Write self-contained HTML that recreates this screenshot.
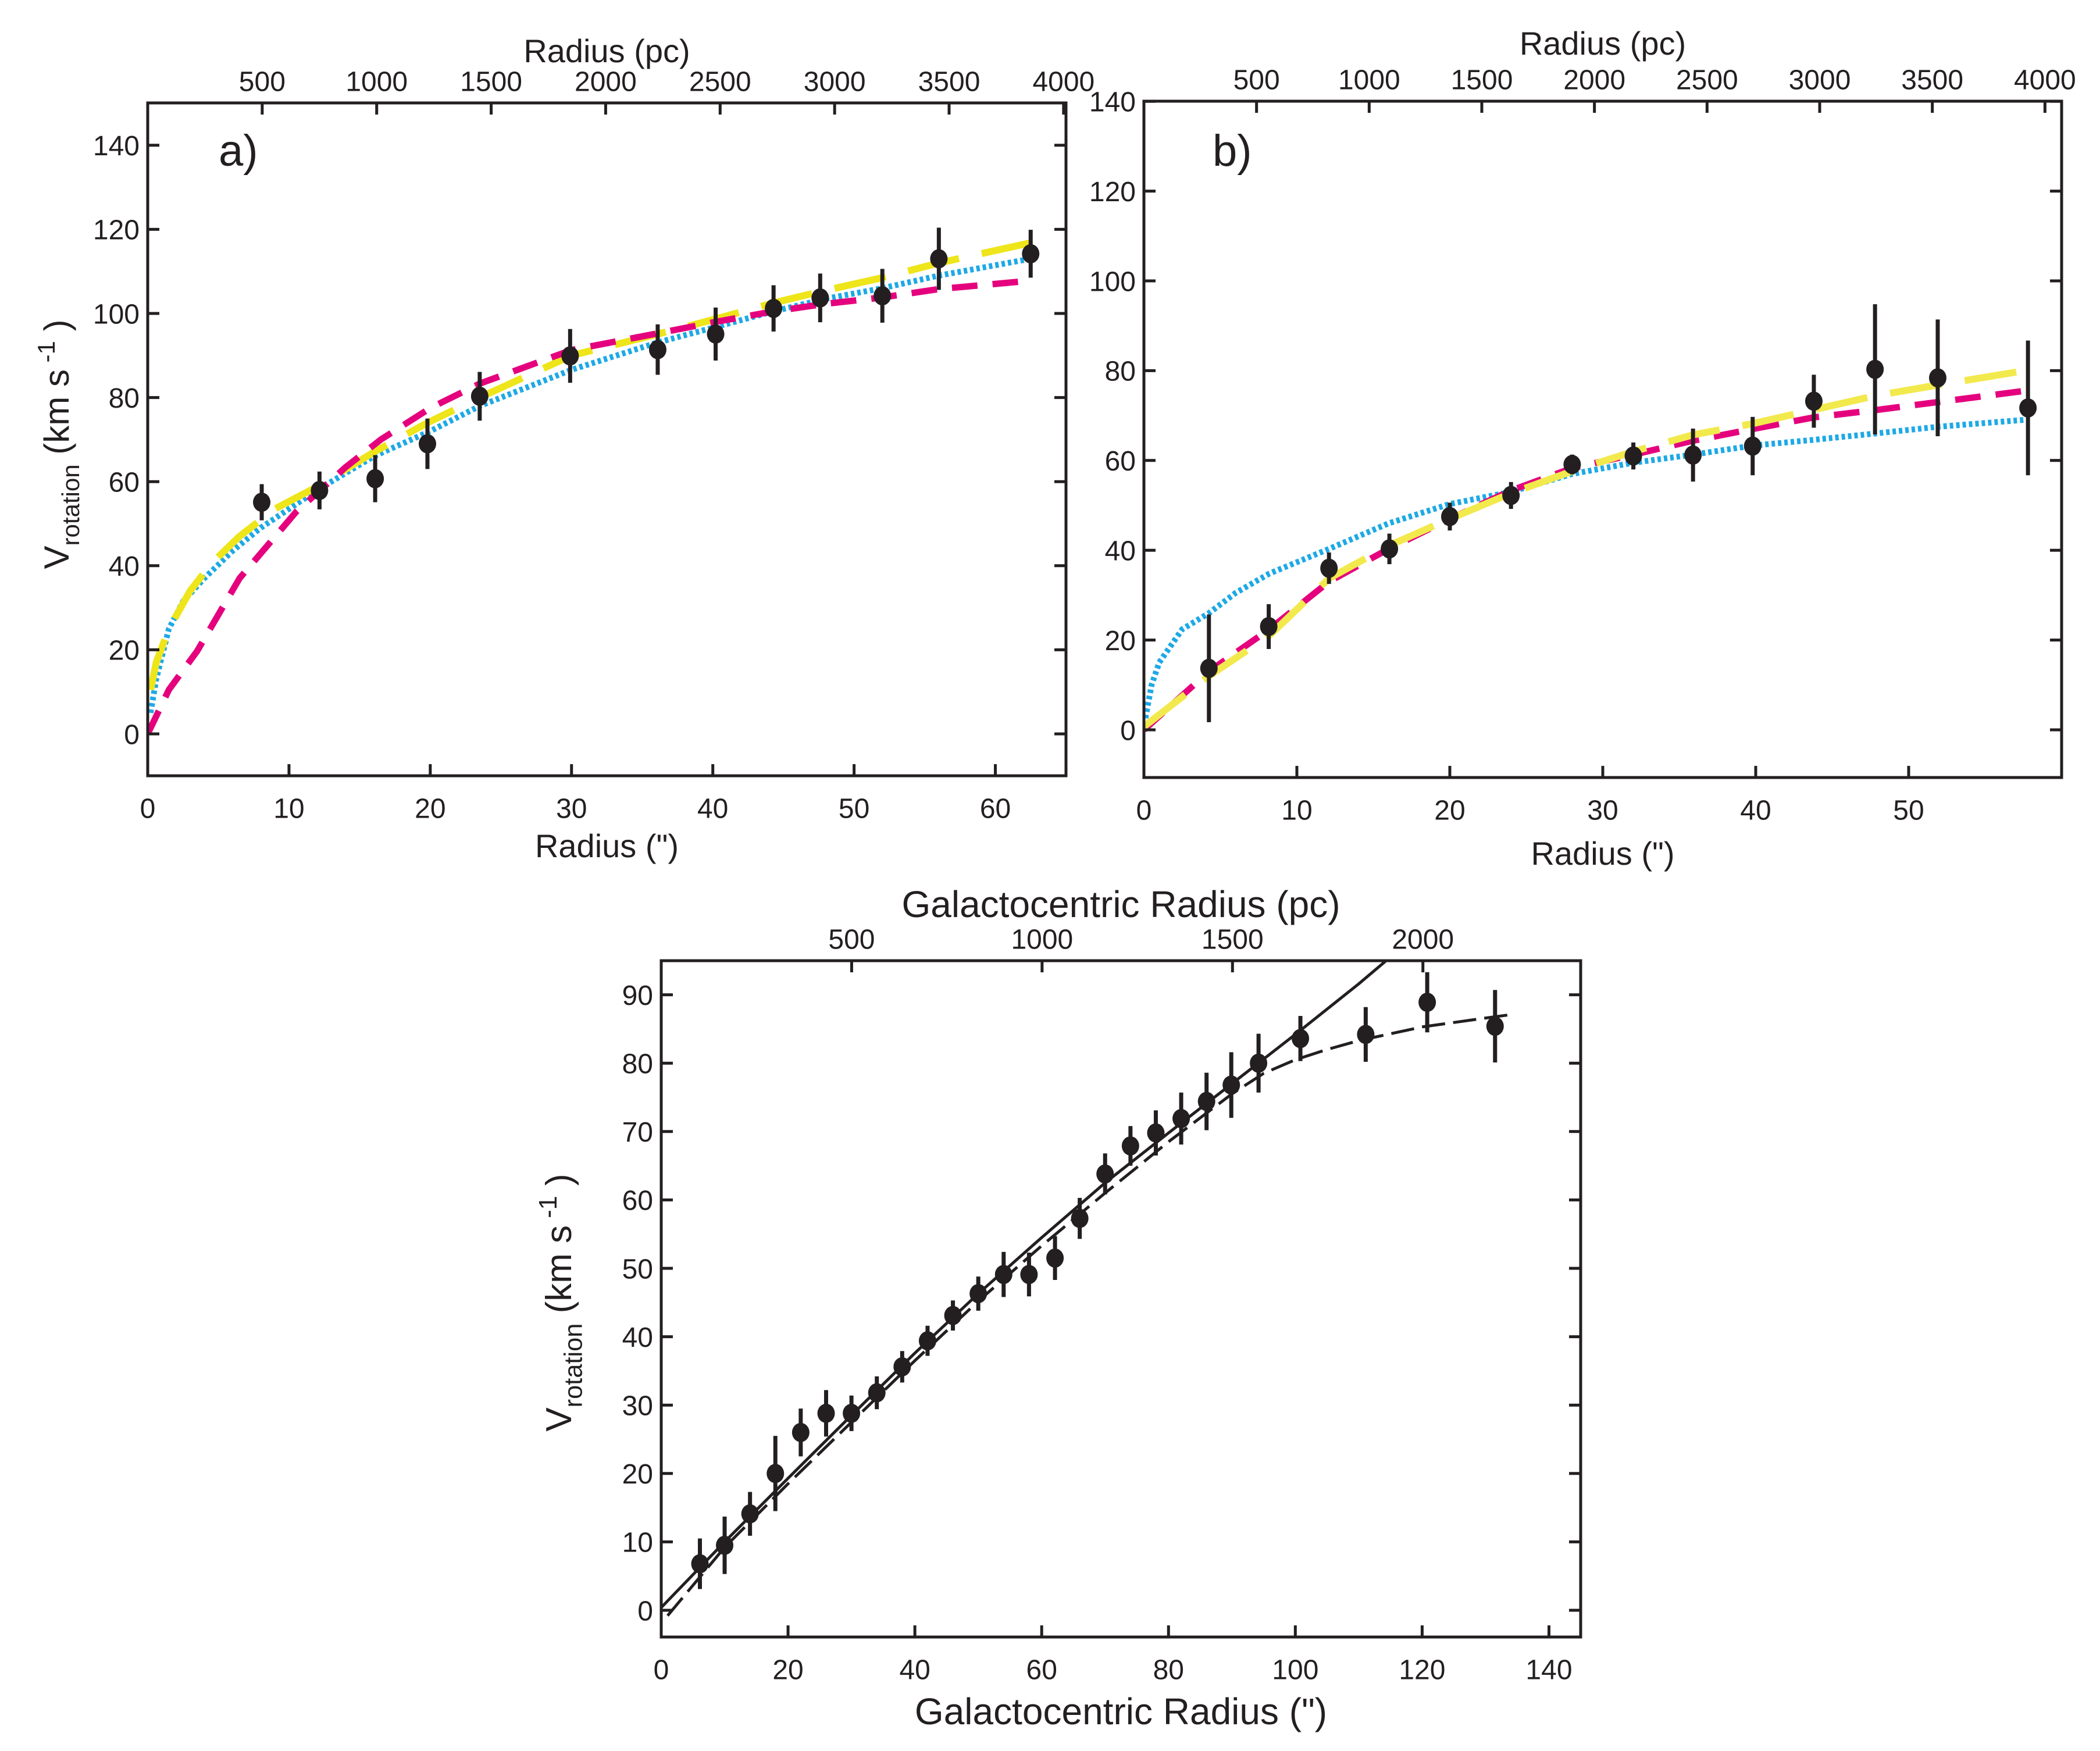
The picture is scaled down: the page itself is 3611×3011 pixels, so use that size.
<!DOCTYPE html>
<html><head><meta charset="utf-8">
<style>
html,body{margin:0;padding:0;background:#fff;}
svg{display:block;}
text{font-family:"Liberation Sans Narrow","Liberation Sans",sans-serif;fill:#231f20;}
</style></head>
<body>
<svg id="fig" xmlns="http://www.w3.org/2000/svg" width="3611" height="3011" viewBox="0 0 3611 3011">
<rect width="3611" height="3011" fill="#fff"/>
</svg>
<script>
// ---------- Panel a data ----------
const aRadius = [8.07,12.16,16.1,19.8,23.5,29.9,36.1,40.2,44.3,47.6,52.0,56.0,62.5];
const aVel    = [55.1,57.9,60.7,69,80.3,89.9,91.4,95.1,101.2,103.7,104.2,113,114.2];
const aErr    = [4.3,4.5,5.6,6,5.8,6.4,6,6.3,5.5,5.8,6.4,7.4,5.7];
const aBlueX  = [0.2,0.6,1.5,2.5,4,6,8,10,12,16,20,23.5,30,36,40,44.3,48,52,56,62.5];
const aBlueY  = [5,13,25,31.5,37,43.5,49,53.5,58,66,72,78,86.6,93,96.6,100.5,103.5,106,109,113];
const aYelX   = [0.2,0.6,1.5,3,4.5,6.5,9,12,16,19.8,23.5,30,36,40,44.3,48,52,56,62.5];
const aYelY   = [10.5,17,25,34,40.5,47,53.5,58.8,67,74,80,90,95,98.5,102.5,105.5,108.5,112,116.8];
const aMagX   = [0,1.5,3.5,6.5,10.5,14,16.5,20,23.5,30,36,40.2,44.3,48,52,56,62.5];
const aMagY   = [0,10.5,19.7,37,52.8,63.4,70,77.5,83.3,91.3,95.2,98,100.5,102.3,103.8,105.8,107.8];
const aYTicks = [0,20,40,60,80,100,120,140];
const aXTicks = [0,10,20,30,40,50,60];
const aPcTicks = [500,1000,1500,2000,2500,3000,3500,4000];
// ---------- Panel b data ----------
const bRadius = [4.25,8.16,12.1,16.05,20,24,28,32,35.9,39.8,43.8,47.8,51.9,57.8];
const bVel    = [13.7,23,36,40.3,47.5,52.2,59.1,61,61.2,63.2,73.2,80.3,78.4,71.7];
const bErr    = [12,5,3.5,3.4,3.1,3,2.2,3,5.9,6.5,5.9,14.5,13,15];
const bBlueX  = [0.1,0.5,1,2.5,4.25,6,8.2,12.1,16,20,24,28,32,35.9,39.8,43.8,47.8,51.9,57.8];
const bBlueY  = [2.6,10,15,22.4,26,30.5,34.8,40.3,46,50.3,53,57,59.5,61.3,63.3,64.6,66,67.5,69.1];
const bMagX   = [0,4.25,8.2,12.1,16,20,24,28,32,35.9,39.8,43.8,47.8,51.9,57.8];
const bMagY   = [0,13,22.4,33,40.3,47,53.3,58.3,61.3,64.4,67,69.6,71.2,73,75.6];
const bYelX   = [0,4.25,8.2,12.1,16,20,24,28,32,35.9,39.8,43.8,47.8,51.9,57.4];
const bYelY   = [0.7,12,21,33.7,41,47,52.7,57.6,62,65.7,68.2,71.3,74.4,76.8,79.9];
const bYTicks = [0,20,40,60,80,100,120,140];
const bXTicks = [0,10,20,30,40,50];
const bPcTicks = [500,1000,1500,2000,2500,3000,3500,4000];
// ---------- Panel c data ----------
const cRadius = [6.1,10,14,18,22,26,30,34,38,42,46,50,54,58,62.1,66,70,74,78,82,86,89.9,94.2,100.8,111.1,120.8,131.5];
const cVel    = [6.8,9.5,14.1,20,26,28.8,28.8,31.8,35.6,39.4,43.1,46.3,49.1,49.1,51.5,57.3,63.8,67.9,69.8,71.9,74.4,76.8,80,83.6,84.2,88.9,85.4];
const cErr    = [3.7,4.2,3.2,5.5,3.5,3.4,2.6,2.4,2.3,2.2,2.2,2.5,3.3,3.2,3.2,3,3,2.9,3.3,3.8,4.2,4.8,4.3,3.3,4,4.4,5.3];
const cSolidX = [0,10,20,30,40,50,60,70,80,90,100,110,116];
const cSolidY = [0.4,10,19.3,28.5,37.6,46.3,54.5,62.5,69.8,77,84.2,91.6,96.3];
const cDashX  = [1,10,20,30,40,50,60,70,80,90,95,100,105,110,120,130,134];
const cDashY  = [-0.8,9.2,18.5,27.5,36.5,45.2,53.3,61,68.5,75.5,78.5,80.5,82,83.3,85.3,86.6,87.1];
const cYTicks = [0,10,20,30,40,50,60,70,80,90];
const cXTicks = [0,20,40,60,80,100,120,140];
const cPcTicks = [500,1000,1500,2000];

const NS = "http://www.w3.org/2000/svg";
const svg = document.getElementById('fig');
function mk(tag, attrs, parent){const e=document.createElementNS(NS,tag);for(const k in attrs)e.setAttribute(k,attrs[k]);(parent||svg).appendChild(e);return e;}

function panel(cfg){
  const g = mk('g',{});
  
  
  const sx = v => cfg.L + (v - cfg.x0)/(cfg.x1 - cfg.x0)*(cfg.R - cfg.L);
  const sy = v => cfg.Y0 - v*cfg.ky;
  const clip = mk('clipPath',{id:cfg.name+'-clip'},g);
  mk('rect',{x:cfg.L,y:cfg.T,width:cfg.R-cfg.L,height:cfg.B-cfg.T},clip);
  const plot = mk('g',{'clip-path':'url(#'+cfg.name+'-clip)'},g);
  cfg.curves.forEach(c=>{
    let d='';
    c.x.forEach((v,i)=>{d+=(i?'L':'M')+sx(v).toFixed(1)+','+sy(c.y[i]).toFixed(1);});
    const p = mk('path',{d:d,fill:'none',stroke:c.color,'stroke-width':c.w,'stroke-dasharray':c.dash||'none','stroke-linejoin':'round'},plot);
    
    
  });
  cfg.px.forEach((x,i)=>{
    const eb = mk('line',{x1:sx(x),x2:sx(x),y1:sy(cfg.py[i]-cfg.pe[i]),y2:sy(cfg.py[i]+cfg.pe[i]),stroke:'#231f20','stroke-width':cfg.ebw},plot);
    
    
    const pt = mk('ellipse',{cx:sx(x),cy:sy(cfg.py[i]),rx:cfg.mr,ry:cfg.mr*1.1,fill:'#231f20'},plot);
    
    
  });
  const fr = mk('rect',{x:cfg.L,y:cfg.T,width:cfg.R-cfg.L,height:cfg.B-cfg.T,fill:'none',stroke:'#231f20','stroke-width':5},g);
  
  
  const TL=20, fs=cfg.fs;
  cfg.yt.forEach(v=>{
    const y=sy(v);
    mk('line',{x1:cfg.L,x2:cfg.L+TL,y1:y,y2:y,stroke:'#231f20','stroke-width':5},g);
    mk('line',{x1:cfg.R,x2:cfg.R-TL,y1:y,y2:y,stroke:'#231f20','stroke-width':5},g);
    const t=mk('text',{x:cfg.L-14,y:y+fs*0.36,'font-size':fs,'text-anchor':'end'},g);
    t.textContent=v;
    
    
  });
  cfg.xt.forEach(v=>{
    const x=sx(v);
    mk('line',{x1:x,x2:x,y1:cfg.B,y2:cfg.B-TL,stroke:'#231f20','stroke-width':5},g);
    const t=mk('text',{x:x,y:cfg.B+55+fs*0.36,'font-size':fs,'text-anchor':'middle'},g);
    t.textContent=v;
    
    
  });
  cfg.pt.forEach(v=>{
    const x=sx(v/cfg.pcPer);
    mk('line',{x1:x,x2:x,y1:cfg.T,y2:cfg.T+TL,stroke:'#231f20','stroke-width':5},g);
    const t=mk('text',{x:x,y:cfg.T-38+fs*0.36,'font-size':fs,'text-anchor':'middle'},g);
    t.textContent=v;
    
    
  });
  const bt=mk('text',{x:(cfg.L+cfg.R)/2,y:cfg.B+cfg.btOff,'font-size':cfg.tfs,'text-anchor':'middle'},g);
  bt.textContent=cfg.xTitle;
  
  
  const tt=mk('text',{x:(cfg.L+cfg.R)/2,y:cfg.T+cfg.ttOff,'font-size':cfg.tfs,'text-anchor':'middle'},g);
  tt.textContent=cfg.topTitle;
  
  
  if(cfg.yTitle){
    const yt=mk('text',{transform:'translate('+cfg.yTitle.x+','+cfg.yTitle.y+') rotate(-90)','font-size':cfg.yTitle.fs,'text-anchor':'middle'},g);
    
    
    const f=cfg.yTitle.fs;
    yt.innerHTML='V<tspan font-size="'+(f*0.7)+'" dy="'+(f*0.3)+'">rotation</tspan><tspan dy="'+(-f*0.3)+'">  (km s</tspan><tspan font-size="'+(f*0.7)+'" dy="'+(-f*0.4)+'"> -1</tspan><tspan dy="'+(f*0.4)+'"> )</tspan>';
  }
  if(cfg.label){
    const lb=mk('text',{x:cfg.label.x,y:cfg.label.y,'font-size':76},g);
    lb.textContent=cfg.label.t;
    
    
  }
}

panel({name:'panel-a',L:254,R:1833,T:177,B:1334,x0:0,x1:65,Y0:1262,ky:7.23,
  px:aRadius,py:aVel,pe:aErr,mr:15,ebw:7,fs:48,tfs:56,
  yt:aYTicks,xt:aXTicks,pt:aPcTicks,pcPer:61.7,
  xTitle:'Radius (")',topTitle:'Radius (pc)',btOff:140,ttOff:-70,
  yTitle:{x:118,y:764,fs:60},label:{x:376,y:285,t:'a)'},
  curves:[
    {name:'blue-dotted-fit',x:aBlueX,y:aBlueY,color:'#1ea9e6',w:10,dash:'6 5'},
    {name:'yellow-dashed-fit',x:aYelX,y:aYelY,color:'#eee51a',w:12,dash:'90 40'},
    {name:'magenta-dashed-fit',x:aMagX,y:aMagY,color:'#e5007d',w:11,dash:'44 26'}
  ]});
panel({name:'panel-b',L:1967,R:3545,T:174,B:1337,x0:0,x1:60,Y0:1255,ky:7.72,
  px:bRadius,py:bVel,pe:bErr,mr:15,ebw:7,fs:48,tfs:56,
  yt:bYTicks,xt:bXTicks,pt:bPcTicks,pcPer:67.9,
  xTitle:'Radius (")',topTitle:'Radius (pc)',btOff:150,ttOff:-80,
  yTitle:null,label:{x:2085,y:285,t:'b)'},
  curves:[
    {name:'blue-dotted-fit',x:bBlueX,y:bBlueY,color:'#1ea9e6',w:10,dash:'6 5'},
    {name:'magenta-dashed-fit',x:bMagX,y:bMagY,color:'#e5007d',w:11,dash:'44 26'},
    {name:'yellow-dashed-fit',x:bYelX,y:bYelY,color:'#f2e94c',w:12,dash:'90 40'}
  ]});
panel({name:'panel-c',L:1137,R:2718,T:1652,B:2815,x0:0,x1:145,Y0:2769,ky:11.76,
  px:cRadius,py:cVel,pe:cErr,mr:15,ebw:7,fs:48,tfs:64,
  yt:cYTicks,xt:cXTicks,pt:cPcTicks,pcPer:16.65,
  xTitle:'Galactocentric Radius (")',topTitle:'Galactocentric Radius (pc)',btOff:150,ttOff:-75,
  yTitle:{x:982,y:2240,fs:62},label:null,
  curves:[
    {name:'solid-fit',x:cSolidX,y:cSolidY,color:'#231f20',w:5},
    {name:'dashed-fit',x:cDashX,y:cDashY,color:'#231f20',w:5,dash:'40 14'}
  ]});
</script>
</body></html>
